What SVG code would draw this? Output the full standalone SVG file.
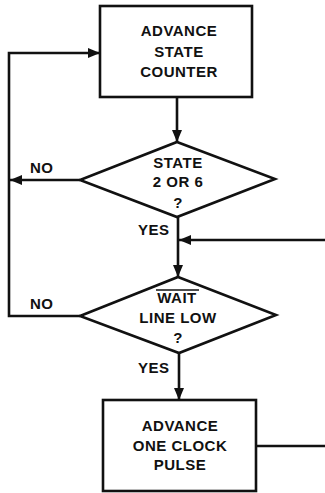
<svg xmlns="http://www.w3.org/2000/svg" width="325" height="493" viewBox="0 0 325 493">
<style>
.s{fill:#fff;stroke:#111;stroke-width:2.6}
.c{fill:none;stroke:#111;stroke-width:2.6}
text{font-family:"Liberation Sans",Arial,sans-serif;font-weight:bold;font-size:15px;letter-spacing:0.5px;fill:#111;text-anchor:middle}
.l{text-anchor:start}
</style>
<defs>
<marker id="ah" markerUnits="userSpaceOnUse" markerWidth="12" markerHeight="10" refX="12" refY="5" orient="auto">
<path d="M0,0 L12,5 L0,10 z" fill="#111"/>
</marker>
</defs>
<rect width="325" height="493" fill="#fff"/>
<g id="connectors">
<path class="c" d="M177,97 V142" marker-end="url(#ah)"/>
<path class="c" d="M178,217 V277" marker-end="url(#ah)"/>
<path class="c" d="M325,240 H179" marker-end="url(#ah)"/>
<path class="c" d="M179,353 V400" marker-end="url(#ah)"/>
<path class="c" d="M80,180 H10" marker-end="url(#ah)"/>
<path class="c" d="M80,316 H9 V53 H100" marker-end="url(#ah)"/>
<path class="c" d="M256,446 H325"/>
<text class="l" x="30" y="173">NO</text>
<text class="l" x="30" y="309">NO</text>
<text class="l" x="138" y="235">YES</text>
<text class="l" x="138" y="373">YES</text>
</g>
<g id="advance-state-counter">
<rect class="s" x="100" y="6" width="152" height="91"/>
<text x="179" y="36">ADVANCE</text>
<text x="179" y="57">STATE</text>
<text x="179" y="77">COUNTER</text>
</g>
<g id="state-2-or-6">
<path class="s" d="M177,142 L275,179 L177,217 L80,180 Z"/>
<text x="178" y="168">STATE</text>
<text x="178" y="187">2 OR 6</text>
<text x="178" y="208">?</text>
</g>
<g id="wait-line-low">
<path class="s" d="M178,277 L276,315 L179,353 L80,316 Z"/>
<text x="177" y="303">WAIT</text>
<line x1="156" y1="290" x2="199" y2="290" stroke="#111" stroke-width="1.6"/>
<text x="178" y="323">LINE LOW</text>
<text x="178" y="343">?</text>
</g>
<g id="advance-one-clock-pulse">
<rect class="s" x="103" y="400" width="153" height="91"/>
<text x="180" y="431">ADVANCE</text>
<text x="180" y="451">ONE CLOCK</text>
<text x="180" y="470">PULSE</text>
</g>
</svg>
